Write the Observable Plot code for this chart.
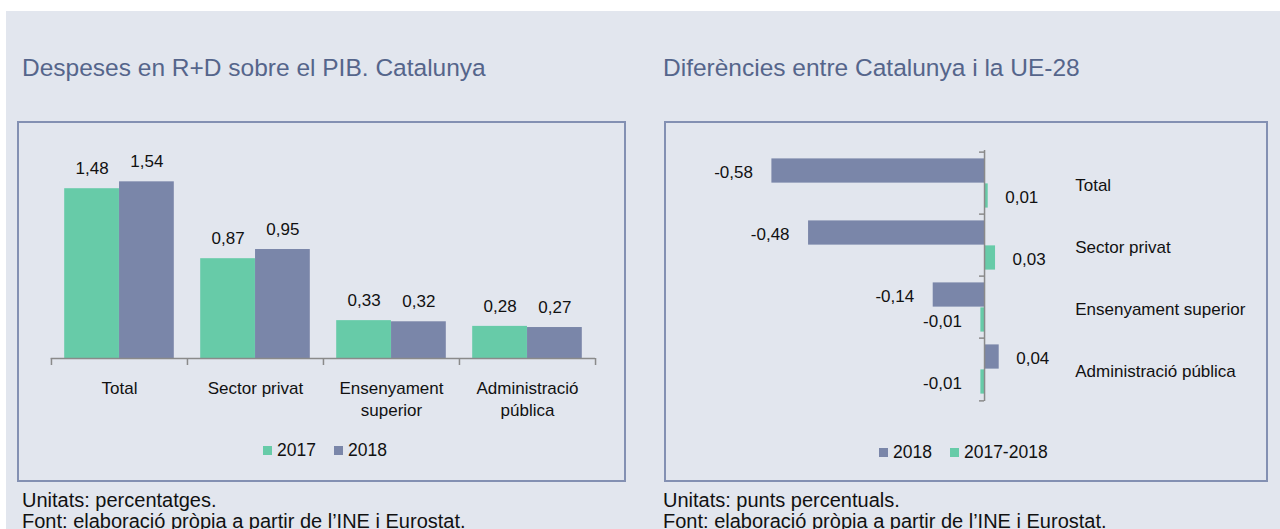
<!DOCTYPE html>
<html>
<head>
<meta charset="utf-8">
<script src="https://cdn.jsdelivr.net/npm/d3@7"></script>
<script src="https://cdn.jsdelivr.net/npm/@observablehq/plot@0.6"></script>
<style>
  html, body { margin: 0; padding: 0; width: 1280px; height: 529px; overflow: hidden; background: #ffffff; }
  body { position: relative; font-family: "Liberation Sans", Arial, sans-serif; color: #111; }
  #bg { position: absolute; left: 6px; top: 11px; width: 1274px; height: 518px; background: #e2e6ee; }
  .title { position: absolute; font-size: 24.5px; line-height: 24.5px; color: #55658b; white-space: nowrap; }
  .box { position: absolute; border: 2px solid #8390b2; box-sizing: border-box; }
  .chart { position: absolute; }
  .note { position: absolute; font-size: 20px; line-height: 21.3px; color: #111; white-space: nowrap; }
  .legend { position: absolute; font-size: 17.5px; line-height: 18px; color: #111; white-space: nowrap; display: flex; align-items: center; }
  .legend .sw { display: inline-block; width: 9px; height: 9px; margin-right: 5px; }
  .legend .item { display: inline-flex; align-items: center; margin-right: 18px; }
</style>
</head>
<body>
<div id="bg"></div>
<div class="title" id="t1" style="left:22px; top:55.5px;"></div>
<div class="title" id="t2" style="left:663px; top:55.5px;"></div>
<div class="box" style="left:17px; top:121px; width:609px; height:361px;"></div>
<div class="box" style="left:664px; top:121px; width:604px; height:361px;"></div>
<div class="chart" id="c1" style="left:18px; top:122px;"></div>
<div class="chart" id="c2" style="left:665px; top:122px;"></div>
<div class="legend" id="l1" style="left:263px; top:441px;"></div>
<div class="legend" id="l2" style="left:879px; top:443px;"></div>
<div class="note" id="n1" style="left:22px; top:489.8px;"></div>
<div class="note" id="n2" style="left:663px; top:489.8px;"></div>
<script>
// ---------- data ----------
const categories = ["Total", "Sector privat", "Ensenyament superior", "Administració pública"];
const categoryLabelsLeft = ["Total", "Sector privat", "Ensenyament\nsuperior", "Administració\npública"];
const values2017 = [1.48, 0.87, 0.33, 0.28];
const values2018 = [1.54, 0.95, 0.32, 0.27];
const diff2018 = [-0.58, -0.48, -0.14, 0.04];
const diff2017_2018 = [0.01, 0.03, -0.01, -0.01];
const seriesLeft = ["2017", "2018"];
const seriesRight = ["2018", "2017-2018"];
const titles = ["Despeses en R+D sobre el PIB. Catalunya", "Diferències entre Catalunya i la UE-28"];
const notesLeft = ["Unitats: percentatges.", "Font: elaboració pròpia a partir de l’INE i Eurostat."];
const notesRight = ["Unitats: punts percentuals.", "Font: elaboració pròpia a partir de l’INE i Eurostat."];

// ---------- styles ----------
const GREEN = "#67cba8";
const BLUE = "#7a86a9";
const AXIS = "#8a8a8a";
const TEXT = "#111111";
const fmt = v => (v < 0 ? "-" : "") + Math.abs(v).toFixed(2).replace(".", ",");

document.getElementById("t1").textContent = titles[0];
document.getElementById("t2").textContent = titles[1];
document.getElementById("n1").innerHTML = notesLeft.join("<br>");
document.getElementById("n2").innerHTML = notesRight.join("<br>");

function legend(el, names, colors) {
  const node = document.getElementById(el);
  names.forEach((n, i) => {
    const it = document.createElement("span");
    it.className = "item";
    const sw = document.createElement("span");
    sw.className = "sw";
    sw.style.background = colors[i];
    it.appendChild(sw);
    it.appendChild(document.createTextNode(n));
    node.appendChild(it);
  });
}
legend("l1", seriesLeft, [GREEN, BLUE]);
legend("l2", seriesRight, [BLUE, GREEN]);

// ---------- left chart ----------
{
  const rows = categories.map((c, i) => ({cat: c, label: categoryLabelsLeft[i], v17: values2017[i], v18: values2018[i]}));
  const W = 607, H = 359, mL = 32.7, mR = 30, mT = 29.5, mB = 123, yMax = 1.8;
  const step = (W - mL - mR) / categories.length;
  const outer = 13.2, barW = step / 2 - outer;
  const pxPerUnit = (H - mT - mB) / yMax;
  const tick = 7 / pxPerUnit;
  const chart = Plot.plot({
    width: W, height: H,
    marginLeft: mL, marginRight: mR, marginTop: mT, marginBottom: mB,
    style: {background: "transparent", fontFamily: "'Liberation Sans', Arial, sans-serif", fontSize: "17px", color: TEXT},
    x: {domain: categories, padding: 0, axis: null},
    y: {domain: [0, yMax], axis: null},
    marks: [
      Plot.barY(rows, {x: "cat", y: "v17", fill: GREEN, insetLeft: outer, insetRight: outer + barW}),
      Plot.barY(rows, {x: "cat", y: "v18", fill: BLUE, insetLeft: outer + barW, insetRight: outer}),
      Plot.ruleY([0], {stroke: AXIS, strokeWidth: 1.5}),
      Plot.ruleX(categories, {x: d => d, dx: -step / 2, y1: 0, y2: -tick, stroke: AXIS, strokeWidth: 1.5}),
      Plot.ruleX(categories.slice(-1), {x: d => d, dx: step / 2, y1: 0, y2: -tick, stroke: AXIS, strokeWidth: 1.5}),
      Plot.text(rows, {x: "cat", y: "v17", text: d => fmt(d.v17), dx: -(barW / 2), dy: -20, fill: TEXT}),
      Plot.text(rows, {x: "cat", y: "v18", text: d => fmt(d.v18), dx: barW / 2, dy: -20, fill: TEXT}),
      Plot.text(rows, {x: "cat", y: 0, text: "label", lineAnchor: "top", dy: 20, lineHeight: 1.3, fill: TEXT})
    ]
  });
  document.getElementById("c1").appendChild(chart);
}

// ---------- right chart ----------
{
  const rows = categories.map((c, i) => ({cat: c, a: diff2018[i], b: diff2017_2018[i]}));
  const W = 602, H = 359, mL = 62.4, mR = 246.3, mT = 28, mB = 80;
  const xDom = [-0.7, 0.1];
  const step = (H - mT - mB) / categories.length;
  const pad = 6.4, barH = step / 2 - pad;
  const pxPerUnit = (W - mL - mR) / (xDom[1] - xDom[0]);
  const tick = 5 / pxPerUnit;
  const off = barH / 2;
  const chart = Plot.plot({
    width: W, height: H,
    marginLeft: mL, marginRight: mR, marginTop: mT, marginBottom: mB,
    style: {background: "transparent", fontFamily: "'Liberation Sans', Arial, sans-serif", fontSize: "17px", color: TEXT},
    x: {domain: xDom, axis: null},
    y: {domain: categories, padding: 0},
    marks: [
      Plot.barX(rows, {y: "cat", x: "a", fill: BLUE, insetTop: pad, insetBottom: pad + barH}),
      Plot.barX(rows, {y: "cat", x: "b", fill: GREEN, insetTop: pad + barH, insetBottom: pad}),
      Plot.ruleX([0], {stroke: AXIS, strokeWidth: 1.5}),
      Plot.ruleY(categories, {y: d => d, dy: -step / 2, x1: 0, x2: -tick, stroke: AXIS, strokeWidth: 1.5}),
      Plot.ruleY(categories.slice(-1), {y: d => d, dy: step / 2, x1: 0, x2: -tick, stroke: AXIS, strokeWidth: 1.5}),
      Plot.text(rows.filter(d => d.a < 0), {y: "cat", x: "a", text: d => fmt(d.a), textAnchor: "end", dx: -19, dy: -off + 2, fill: TEXT}),
      Plot.text(rows.filter(d => d.a >= 0), {y: "cat", x: "a", text: d => fmt(d.a), textAnchor: "start", dx: 17, dy: -off + 2, fill: TEXT}),
      Plot.text(rows.filter(d => d.b < 0), {y: "cat", x: "b", text: d => fmt(d.b), textAnchor: "end", dx: -19, dy: off + 2, fill: TEXT}),
      Plot.text(rows.filter(d => d.b >= 0), {y: "cat", x: "b", text: d => fmt(d.b), textAnchor: "start", dx: 17, dy: off + 2, fill: TEXT}),
      Plot.axisY({anchor: "right", tickSize: 0, tickPadding: 54, label: null, fontSize: 17, dy: 2})
    ]
  });
  document.getElementById("c2").appendChild(chart);
}
</script>
</body>
</html>
